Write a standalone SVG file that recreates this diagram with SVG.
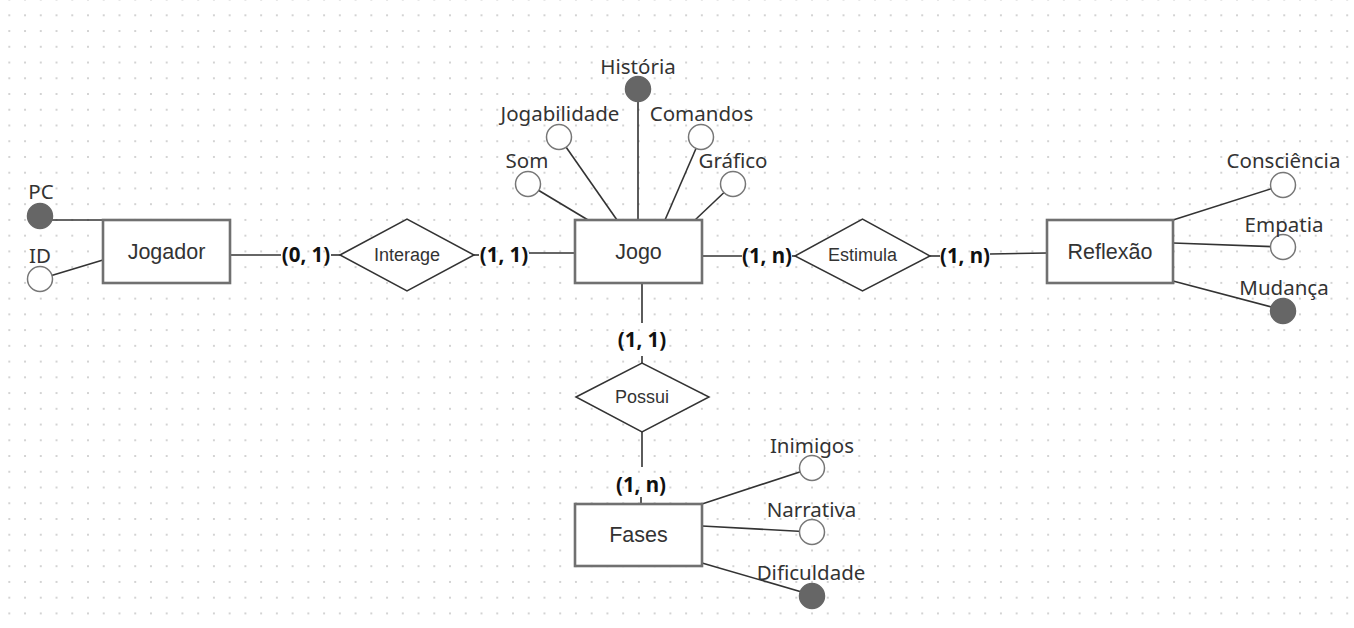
<svg xmlns="http://www.w3.org/2000/svg" width="1354" height="628" viewBox="0 0 1354 628">
<defs>
<pattern id="dots" patternUnits="userSpaceOnUse" x="1.43" y="7.43" width="15.74" height="15.74">
<circle cx="7.87" cy="7.87" r="1" fill="#c4c4c4"/>
</pattern>
<style>
.ent{fill:#fff;stroke:#707070;stroke-width:2.6}
.rel{fill:#fff;stroke:#333;stroke-width:1.5}
.ln{stroke:#333;stroke-width:1.6;fill:none}
.att{fill:#fff;stroke:#777;stroke-width:1.5}
.key{fill:#666;stroke:#666;stroke-width:1.5}
.et{font-family:"Liberation Sans",Arial,sans-serif;font-size:21.5px;fill:#333;text-anchor:middle}
.rt{font-family:"Liberation Sans",Arial,sans-serif;font-size:18px;fill:#333;text-anchor:middle}
.at{font-family:"Noto Sans","Open Sans",sans-serif;font-size:20.5px;fill:#333;text-anchor:middle}
.cd{font-family:"Noto Sans","Open Sans",sans-serif;font-size:20.5px;font-weight:bold;fill:#111;text-anchor:middle}
</style>
</defs>
<rect width="1354" height="628" fill="#fff"/>
<rect width="1354" height="628" fill="url(#dots)"/>

<g id="connectors">
<line class="ln" x1="230" y1="255" x2="281" y2="255"/>
<line class="ln" x1="331" y1="255" x2="340" y2="255"/>
<line class="ln" x1="474" y1="255" x2="479" y2="255"/>
<line class="ln" x1="529" y1="253" x2="575" y2="253"/>
<line class="ln" x1="702" y1="256" x2="742" y2="256"/>
<line class="ln" x1="792" y1="256" x2="795" y2="256"/>
<line class="ln" x1="930" y1="256" x2="940" y2="256"/>
<line class="ln" x1="990" y1="254" x2="1047" y2="253"/>
<line class="ln" x1="642" y1="283" x2="642" y2="323"/>
<line class="ln" x1="642" y1="356" x2="642" y2="363"/>
<line class="ln" x1="642" y1="432" x2="642" y2="467"/>
<line class="ln" x1="641" y1="497" x2="641" y2="504"/>
<line class="ln" x1="40" y1="220" x2="103" y2="220"/>
<line class="ln" x1="40" y1="279" x2="103" y2="260"/>
<line class="ln" x1="528" y1="184" x2="588" y2="220"/>
<line class="ln" x1="559" y1="137" x2="617" y2="220"/>
<line class="ln" x1="638" y1="89" x2="638" y2="220"/>
<line class="ln" x1="701" y1="137" x2="665" y2="220"/>
<line class="ln" x1="733" y1="184" x2="695" y2="220"/>
<line class="ln" x1="1173" y1="220" x2="1283" y2="185"/>
<line class="ln" x1="1173" y1="243" x2="1283" y2="247"/>
<line class="ln" x1="1173" y1="281" x2="1283" y2="310"/>
<line class="ln" x1="702" y1="504" x2="812" y2="468"/>
<line class="ln" x1="702" y1="526" x2="812" y2="532"/>
<line class="ln" x1="702" y1="563" x2="812" y2="595"/>
<text class="cd" x="306" y="262">(0, 1)</text>
<text class="cd" x="504" y="262">(1, 1)</text>
<text class="cd" x="767" y="263">(1, n)</text>
<text class="cd" x="965" y="263">(1, n)</text>
<text class="cd" x="642" y="347">(1, 1)</text>
<text class="cd" x="641" y="492">(1, n)</text>
</g>

<g id="jogador">
<rect class="ent" x="103" y="220" width="127" height="63"/>
<text class="et" x="166.5" y="259">Jogador</text>
</g>
<g id="attr-pc">
<circle class="key" cx="40" cy="216" r="12.5"/>
<text class="at" x="41" y="199">PC</text>
</g>
<g id="attr-id">
<circle class="att" cx="40" cy="279" r="12.5"/>
<text class="at" x="40" y="263">ID</text>
</g>

<g id="interage">
<polygon class="rel" points="340,255 407,219 474,255 407,291"/>
<text class="rt" x="407" y="261">Interage</text>
</g>

<g id="jogo">
<rect class="ent" x="575" y="220" width="127" height="63"/>
<text class="et" x="638.5" y="259">Jogo</text>
</g>
<g id="attr-historia">
<circle class="key" cx="638" cy="89" r="12.5"/>
<text class="at" x="638" y="74">História</text>
</g>
<g id="attr-jogabilidade">
<circle class="att" cx="559" cy="137" r="12.5"/>
<text class="at" x="560" y="121">Jogabilidade</text>
</g>
<g id="attr-comandos">
<circle class="att" cx="701" cy="137" r="12.5"/>
<text class="at" x="701.5" y="121">Comandos</text>
</g>
<g id="attr-som">
<circle class="att" cx="528" cy="184" r="12.5"/>
<text class="at" x="527" y="168">Som</text>
</g>
<g id="attr-grafico">
<circle class="att" cx="733" cy="184" r="12.5"/>
<text class="at" x="733" y="168">Gráfico</text>
</g>

<g id="estimula">
<polygon class="rel" points="795,256 862.5,219 930,256 862.5,291"/>
<text class="rt" x="862.5" y="261">Estimula</text>
</g>

<g id="reflexao">
<rect class="ent" x="1047" y="220" width="126" height="63"/>
<text class="et" x="1110" y="259">Reflexão</text>
</g>
<g id="attr-consciencia">
<circle class="att" cx="1283" cy="185" r="12.5"/>
<text class="at" x="1283.5" y="168">Consciência</text>
</g>
<g id="attr-empatia">
<circle class="att" cx="1283" cy="247" r="12.5"/>
<text class="at" x="1284" y="232">Empatia</text>
</g>
<g id="attr-mudanca">
<circle class="key" cx="1283" cy="311" r="12.5"/>
<text class="at" x="1284" y="295">Mudança</text>
</g>

<g id="possui">
<polygon class="rel" points="576,397 642,363 709,397 642,432"/>
<text class="rt" x="642" y="403">Possui</text>
</g>

<g id="fases">
<rect class="ent" x="575" y="504" width="127" height="62"/>
<text class="et" x="638.5" y="542">Fases</text>
</g>
<g id="attr-inimigos">
<circle class="att" cx="812" cy="468" r="12.5"/>
<text class="at" x="812" y="453">Inimigos</text>
</g>
<g id="attr-narrativa">
<circle class="att" cx="812" cy="532" r="12.5"/>
<text class="at" x="811.5" y="517">Narrativa</text>
</g>
<g id="attr-dificuldade">
<circle class="key" cx="812" cy="596" r="12.5"/>
<text class="at" x="811" y="580">Dificuldade</text>
</g>
</svg>
